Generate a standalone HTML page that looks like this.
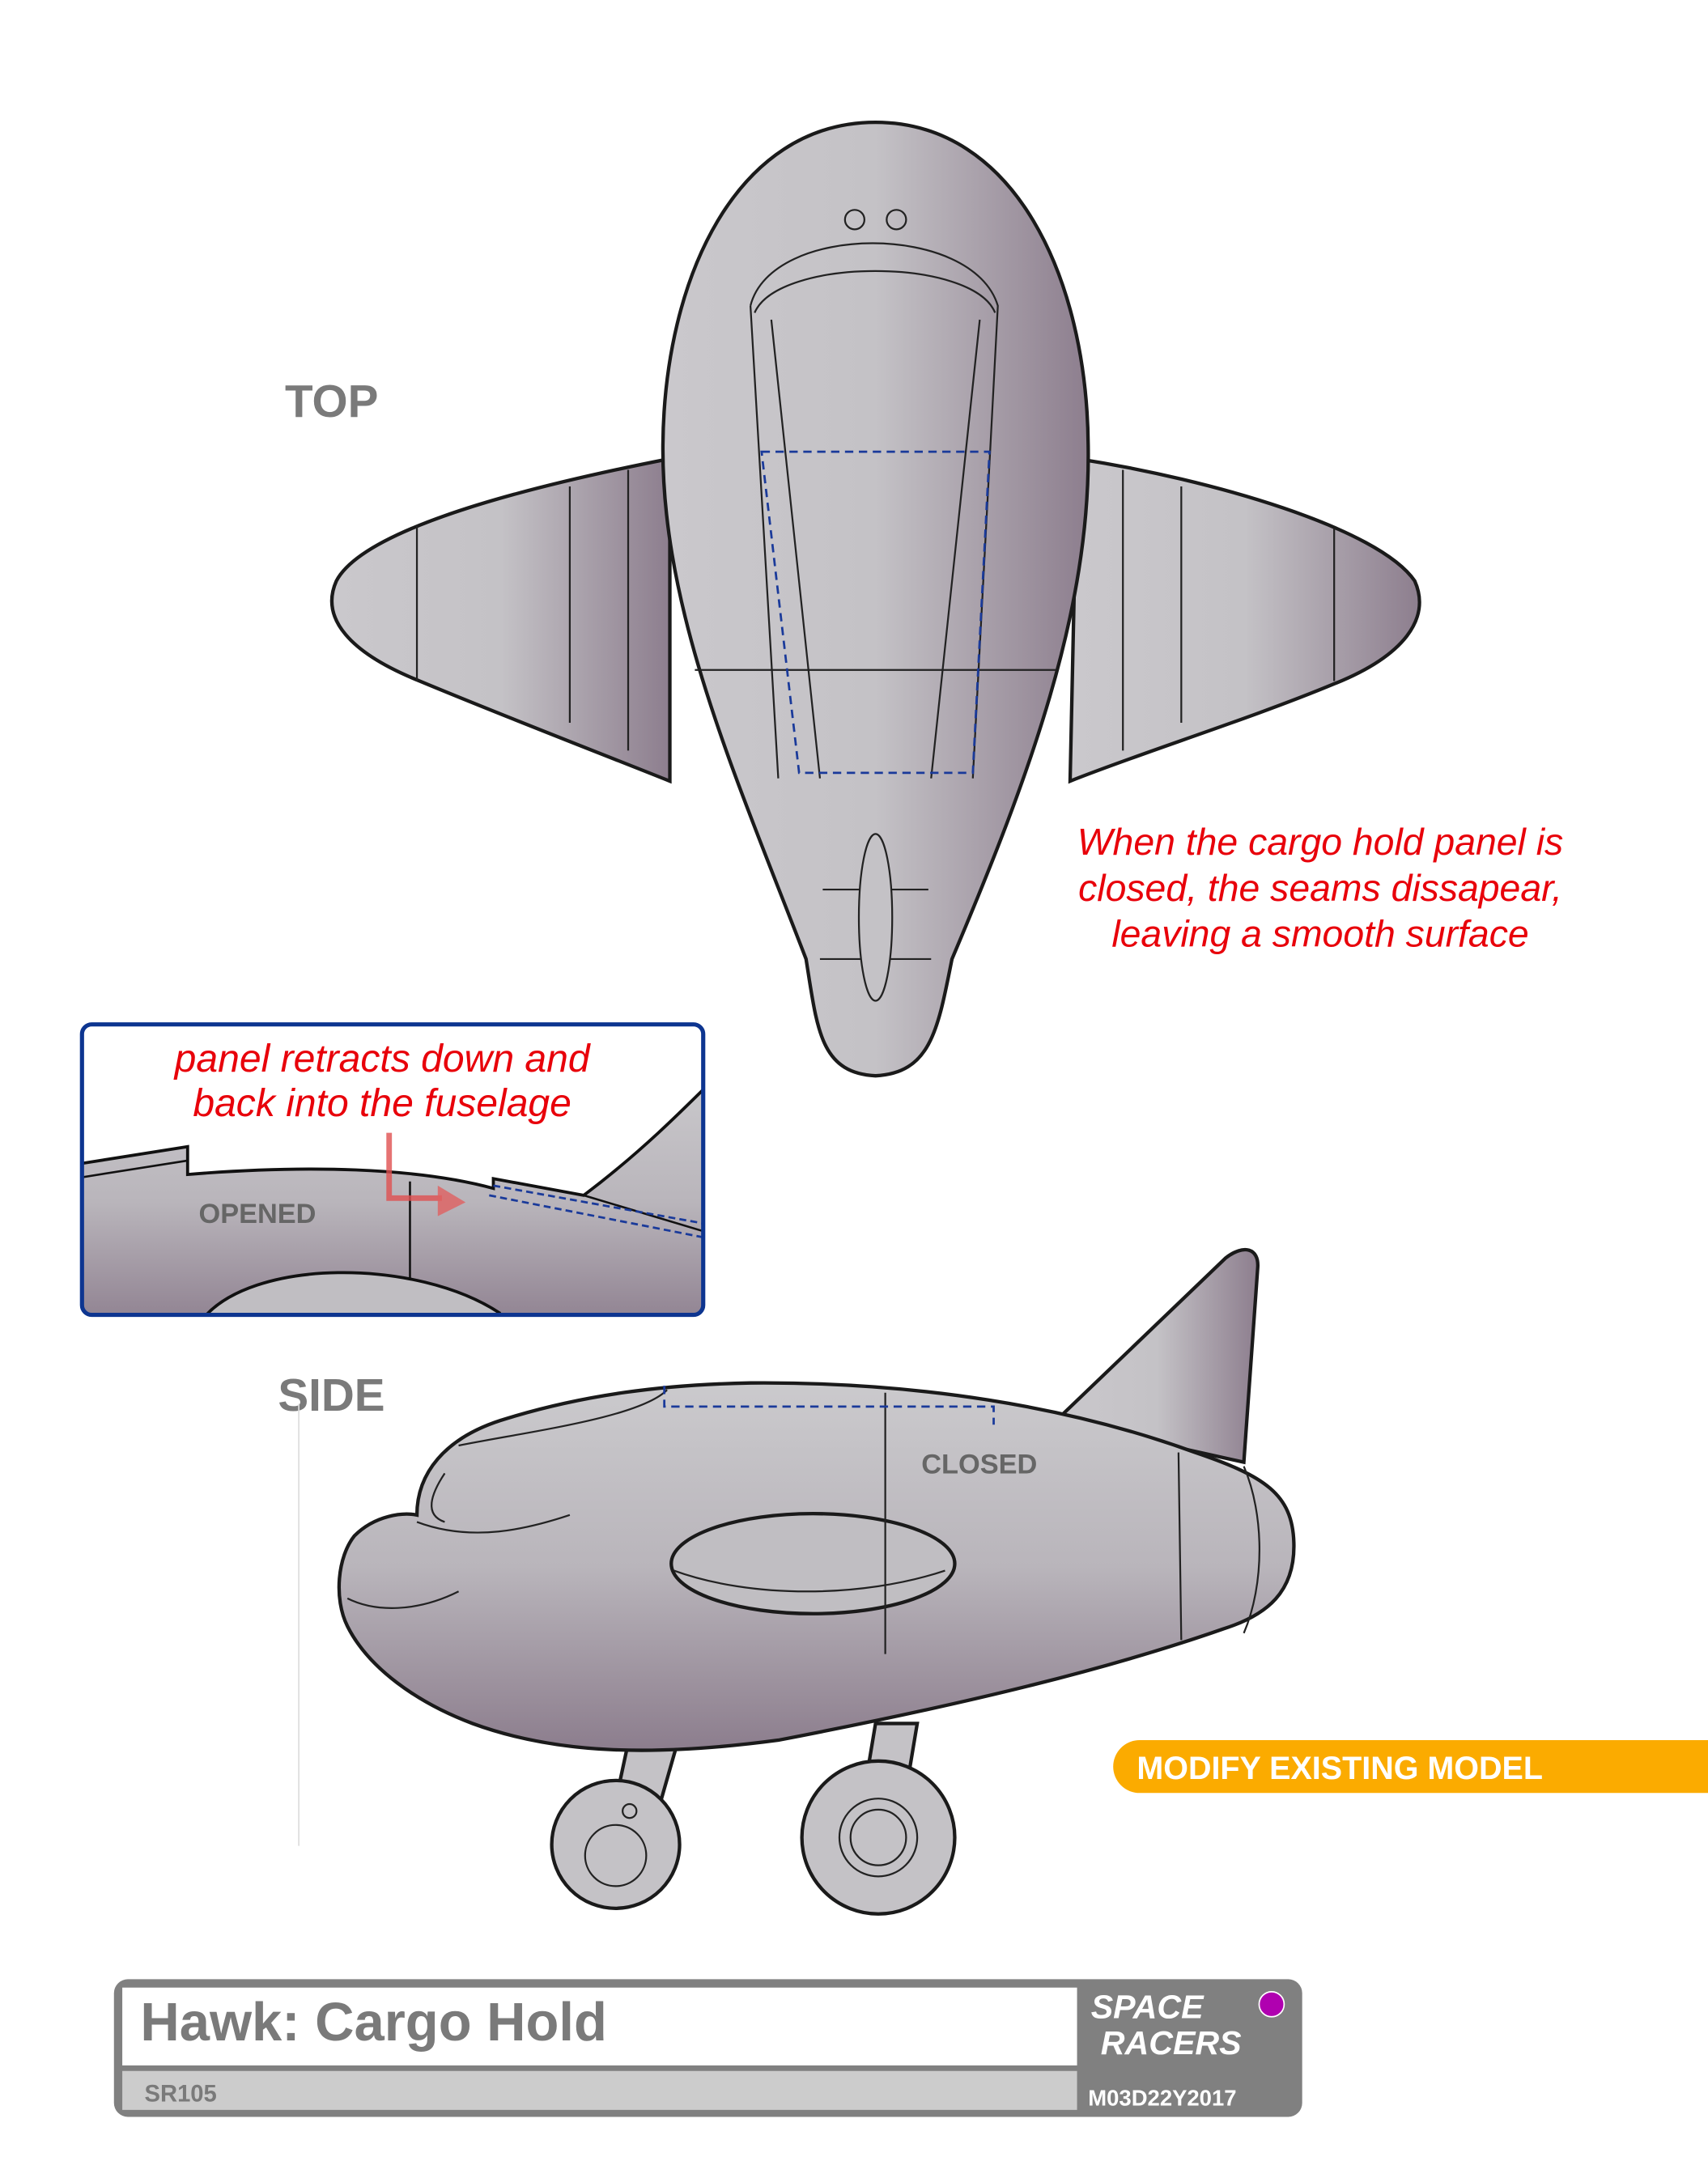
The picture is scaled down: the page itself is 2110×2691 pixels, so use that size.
<!DOCTYPE html>
<html><head><meta charset="utf-8"><style>
html,body{margin:0;padding:0;background:#fff;}
svg{display:block;}
</style></head><body>
<svg width="2110" height="2691" viewBox="0 0 1229 1567" preserveAspectRatio="none" xmlns="http://www.w3.org/2000/svg">
<defs>
<linearGradient id="g1" x1="0" y1="0" x2="1" y2="0">
<stop offset="0" stop-color="#cac8cc"/><stop offset="0.5" stop-color="#c4c2c6"/><stop offset="1" stop-color="#8d7e8e"/>
</linearGradient>
<linearGradient id="g2" x1="0" y1="0" x2="0" y2="1">
<stop offset="0" stop-color="#cbcacd"/><stop offset="0.5" stop-color="#b9b5bb"/><stop offset="1" stop-color="#8c7d8d"/>
</linearGradient>
<clipPath id="ic"><rect x="60" y="738" width="445" height="207" rx="7"/></clipPath>
</defs>
<rect width="1229" height="1567" fill="#fff"/>

<!-- TOP VIEW -->
<g stroke="#1a1a1a" stroke-width="2.5" fill="url(#g1)">
<path d="M482,330 C380,350 262,380 242,418 C230,445 252,470 302,490 C362,515 432,542 482,562 Z"/>
<path d="M775,330 C872,345 992,380 1018,418 C1030,445 1010,472 960,492 C900,517 820,542 770,562 Z"/>
<path d="M630,88 C530,88 478,200 477,320 C476,440 530,560 580,690 C588,740 590,772 630,774 C670,772 675,740 685,690 C740,560 785,440 783,320 C782,200 730,88 630,88 Z"/>
</g>
<g stroke="#222" stroke-width="1.3" fill="none">
<path d="M300,378 L300,490 M410,350 L410,520 M452,338 L452,540 M960,380 L960,490 M850,350 L850,520 M808,338 L808,540"/>
<path d="M500,482 L760,482"/>
<path d="M540,220 C555,160 700,160 718,220 L700,560 M540,220 L560,560 M555,230 L590,560 M705,230 L670,560"/>
<path d="M543,225 C560,185 700,185 716,225"/>
<path d="M590,690 L670,690 M592,640 L668,640"/>
<ellipse cx="630" cy="660" rx="12" ry="60" fill="#c4c2c6"/>
<circle cx="615" cy="158" r="7"/><circle cx="645" cy="158" r="7"/>
</g>
<path d="M548,325 L712,325 L700,556 L575,556 Z" fill="none" stroke="#1a3a9a" stroke-width="1.6" stroke-dasharray="6,4"/>

<text x="205" y="300" font-family="Liberation Sans, sans-serif" font-weight="bold" font-size="33" fill="#7a7a7a">TOP</text>
<text x="200" y="1015" font-family="Liberation Sans, sans-serif" font-weight="bold" font-size="33" fill="#7a7a7a">SIDE</text>

<g font-family="Liberation Sans, sans-serif" font-style="italic" font-size="27" fill="#e8000a" text-anchor="middle">
<text x="950" y="615">When the cargo hold panel is</text>
<text x="950" y="648">closed, the seams dissapear,</text>
<text x="950" y="681">leaving a smooth surface</text>
</g>

<!-- INSET -->
<g clip-path="url(#ic)">
<path d="M40,840 L135,825 L135,845 C220,838 300,840 355,855 L355,848 L420,860 C460,830 490,800 520,770 L530,960 L40,960 Z" fill="url(#g2)" stroke="#111" stroke-width="2.2"/>
<path d="M40,850 L135,835 M295,850 L295,945 M420,860 L520,890" stroke="#111" stroke-width="1.5" fill="none"/>
<path d="M145,950 C180,905 300,905 360,945" fill="#c0bec2" stroke="#111" stroke-width="2.2"/>
<path d="M355,853 L505,880 M352,860 L505,890" stroke="#1a3a9a" stroke-width="1.6" stroke-dasharray="5,3" fill="none"/>
</g>
<rect x="59" y="737" width="447" height="209" rx="7" fill="none" stroke="#0d3590" stroke-width="3"/>
<g font-family="Liberation Sans, sans-serif" font-style="italic" font-size="28" fill="#e8000a" text-anchor="middle">
<text x="275" y="771">panel retracts down and</text>
<text x="275" y="803">back into the fuselage</text>
</g>
<path d="M280,815 L280,862 L318,862" stroke="#e05050" stroke-width="4" fill="none" opacity="0.8"/>
<path d="M315,853 L335,865 L315,875 Z" fill="#e06060" opacity="0.8"/>
<text x="143" y="880" font-family="Liberation Sans, sans-serif" font-weight="bold" font-size="20" fill="#666">OPENED</text>

<!-- SIDE VIEW -->
<line x1="215" y1="1010" x2="215" y2="1328" stroke="#ddd" stroke-width="1"/>
<g stroke="#1a1a1a" stroke-width="2.5">
<path d="M455,1240 L440,1310 L470,1315 L490,1245 Z" fill="#c4c2c6"/>
<path d="M630,1240 L620,1300 L650,1300 L660,1240 Z" fill="#c4c2c6"/>
<path d="M760,1022 L882,905 C895,895 906,898 905,912 L895,1052 Z" fill="url(#g1)"/>
<path d="M300,1090 C300,1060 320,1035 360,1022 C420,1003 480,996 540,995 C660,994 770,1012 860,1045 C910,1062 930,1075 931,1110 C932,1145 912,1162 880,1172 C800,1200 700,1225 560,1252 C470,1264 400,1262 340,1240 C300,1225 265,1200 250,1170 C240,1150 243,1120 255,1105 C270,1090 290,1088 300,1090 Z" fill="url(#g2)"/>
<ellipse cx="585" cy="1125" rx="102" ry="36" fill="#c0bec2"/>
<circle cx="443" cy="1327" r="46" fill="#c4c2c6"/>
<circle cx="632" cy="1322" r="55" fill="#c4c2c6"/>
</g>
<g stroke="#222" stroke-width="1.3" fill="none">
<circle cx="443" cy="1335" r="22"/><circle cx="632" cy="1322" r="28"/><circle cx="632" cy="1322" r="20"/>
<circle cx="453" cy="1303" r="5"/>
<path d="M637,1002 L637,1190 M848,1045 L850,1180 M895,1055 C910,1090 910,1140 895,1175"/>
<path d="M330,1040 C380,1030 460,1020 480,1000 M300,1095 C340,1110 380,1100 410,1090"/>
<path d="M485,1130 C540,1150 620,1150 680,1130"/>
<path d="M320,1060 C310,1075 305,1090 320,1095"/>
<path d="M250,1150 C270,1160 300,1160 330,1145"/>
</g>
<path d="M478,997 L478,1012 L715,1012 L715,1025" stroke="#1a3a9a" stroke-width="1.6" stroke-dasharray="6,4" fill="none"/>
<text x="663" y="1060" font-family="Liberation Sans, sans-serif" font-weight="bold" font-size="20" fill="#666">CLOSED</text>

<!-- orange bar -->
<path d="M820,1252 L1229,1252 L1229,1290 L820,1290 A19,19 0 0 1 820,1252 Z" fill="#fbab00"/>
<text x="818" y="1280" font-family="Liberation Sans, sans-serif" font-weight="bold" font-size="23" fill="#fff">MODIFY EXISTING MODEL</text>

<!-- title block -->
<rect x="82" y="1424" width="855" height="99" rx="10" fill="#808080"/>
<rect x="88" y="1430" width="687" height="56" fill="#fff"/>
<rect x="88" y="1490" width="687" height="28" fill="#cccccc"/>
<text x="101" y="1468" font-family="Liberation Sans, sans-serif" font-weight="bold" font-size="39" fill="#7a7a7a">Hawk: Cargo Hold</text>
<text x="104" y="1512" font-family="Liberation Sans, sans-serif" font-weight="bold" font-size="17" fill="#7a7a7a">SR105</text>
<text x="785" y="1452" font-family="Liberation Sans, sans-serif" font-weight="bold" font-style="italic" font-size="24" fill="#fff">SPACE</text>
<text x="792" y="1478" font-family="Liberation Sans, sans-serif" font-weight="bold" font-style="italic" font-size="24" fill="#fff">RACERS</text>
<circle cx="915" cy="1442" r="9" fill="#b000b0" stroke="#fff" stroke-width="1"/>
<text x="783" y="1515" font-family="Liberation Sans, sans-serif" font-weight="bold" font-size="16" fill="#fff">M03D22Y2017</text>
</svg>
</body></html>
